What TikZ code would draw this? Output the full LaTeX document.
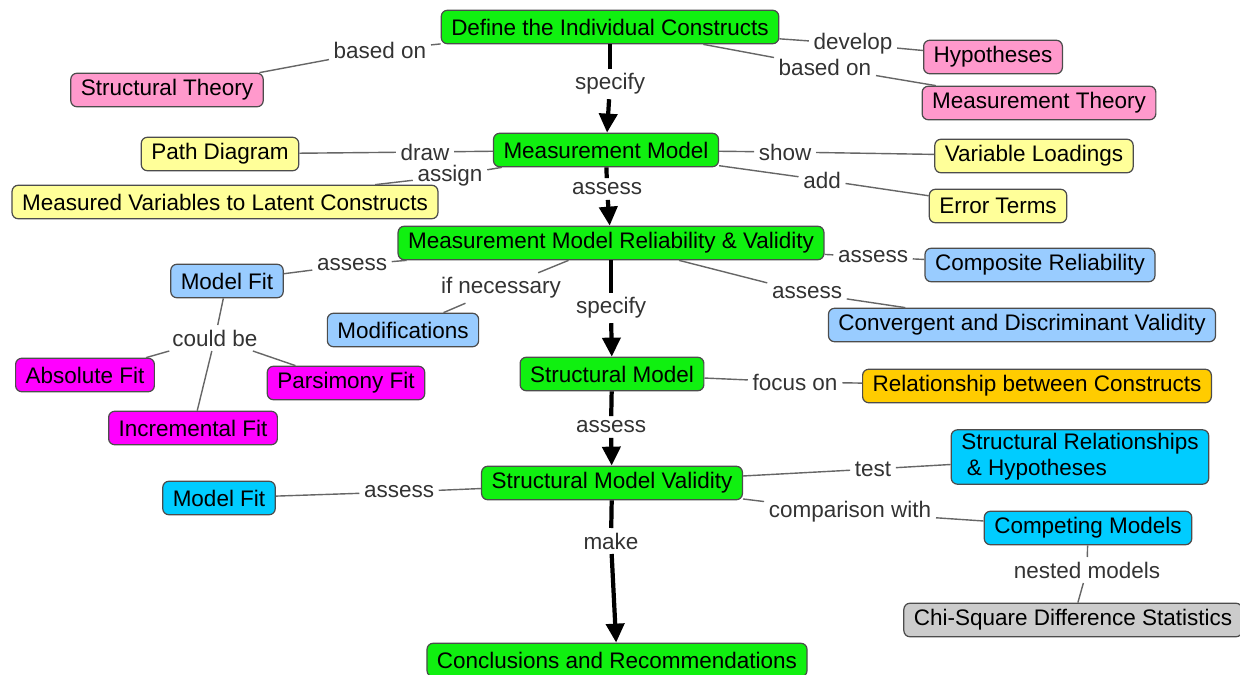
\documentclass[tikz,border=0pt]{standalone}
\usepackage{fontspec}
\setmainfont{Liberation Sans}
\usetikzlibrary{arrows.meta}

\definecolor{cGreen}{RGB}{16,240,16}
\definecolor{cPink}{RGB}{255,153,204}
\definecolor{cYellow}{RGB}{255,255,153}
\definecolor{cLightBlue}{RGB}{153,204,255}
\definecolor{cMagenta}{RGB}{255,0,255}
\definecolor{cOrange}{RGB}{255,204,0}
\definecolor{cCyan}{RGB}{0,204,255}
\definecolor{cGray}{RGB}{204,204,204}

\begin{document}
\begin{tikzpicture}[
  x=0.02cm, y=-0.02cm,
  concept/.style={draw=black!70, line width=0.7pt, rounded corners=3.5pt, minimum height=0.67cm, inner xsep=0.2cm, inner ysep=2pt, font=\fontsize{12.8}{15}\selectfont},
  phrase/.style={inner sep=2.5pt, text=black!80, font=\fontsize{12.8}{15}\selectfont},
  link/.style={draw=black!60, line width=0.8pt},
  flow/.style={line width=2.4pt},
  flowarrow/.style={line width=2.4pt, -{Triangle[length=0.38cm,width=0.36cm]}}
]
\useasboundingbox (0,0) rectangle (1240,675);
% Main chain
\node[concept, fill=cGreen] (def) at (610,27) {Define the Individual Constructs};
\node[concept, fill=cGreen] (mm) at (606,150) {Measurement Model};
\node[concept, fill=cGreen] (rv) at (611,243) {Measurement Model Reliability \& Validity};
\node[concept, fill=cGreen] (sm) at (612,374) {Structural Model};
\node[concept, fill=cGreen] (smv) at (612,483) {Structural Model Validity};
\node[concept, fill=cGreen] (conc) at (617,660) {Conclusions and Recommendations};
% Theories and hypotheses
\node[concept, fill=cPink] (st) at (167,90) {Structural Theory};
\node[concept, fill=cPink] (hyp) at (993,57) {Hypotheses};
\node[concept, fill=cPink] (mt) at (1039,103) {Measurement Theory};
% Measurement model parts
\node[concept, fill=cYellow] (pd) at (220,154) {Path Diagram};
\node[concept, fill=cYellow] (mv) at (225,202) {Measured Variables to Latent Constructs};
\node[concept, fill=cYellow] (vl) at (1034,156) {Variable Loadings};
\node[concept, fill=cYellow] (et) at (998,206) {Error Terms};
% Reliability and validity
\node[concept, fill=cLightBlue] (mfa) at (227,281) {Model Fit};
\node[concept, fill=cLightBlue] (mod) at (403,330) {Modifications};
\node[concept, fill=cLightBlue] (cr) at (1040,265) {Composite Reliability};
\node[concept, fill=cLightBlue] (cv) at (1022,325) {Convergent and Discriminant Validity};
\node[concept, fill=cMagenta] (abs) at (85,375) {Absolute Fit};
\node[concept, fill=cMagenta] (pars) at (346,383) {Parsimony Fit};
\node[concept, fill=cMagenta] (inc) at (193,428) {Incremental Fit};
% Structural model
\node[concept, fill=cOrange] (rel) at (1037,386) {Relationship between Constructs};
\node[concept, fill=cCyan, align=left] (srh) at (1080,457) {Structural Relationships\\\hspace{0.25em}\& Hypotheses};
\node[concept, fill=cCyan] (mfb) at (219,498) {Model Fit};
\node[concept, fill=cCyan] (cm) at (1088,528) {Competing Models};
\node[concept, fill=cGray] (chi) at (1073,620) {Chi-Square Difference Statistics};
% Linking phrases
\node[phrase] (lbBasedL) at (380,50) {based on};
\node[phrase] (lbSpecA) at (610,84) {specify};
\node[phrase] (lbDevelop) at (853,44) {develop};
\node[phrase] (lbBasedR) at (825,67) {based on};
\node[phrase] (lbDraw) at (425,152) {draw};
\node[phrase] (lbAssign) at (450,176) {assign};
\node[phrase] (lbShow) at (785,152) {show};
\node[phrase] (lbAdd) at (822,180) {add};
\node[phrase] (lbAssessA) at (607,189) {assess};
\node[phrase] (lbAssessFit) at (352,265) {assess};
\node[phrase] (lbIfNec) at (501,288) {if necessary};
\node[phrase] (lbSpecB) at (611,308) {specify};
\node[phrase] (lbAssessCR) at (873,257) {assess};
\node[phrase] (lbAssessCV) at (807,293) {assess};
\node[phrase] (lbCould) at (215,338) {could be};
\node[phrase] (lbFocus) at (795,382) {focus on};
\node[phrase] (lbAssessB) at (611,427) {assess};
\node[phrase] (lbAssessMF) at (399,492) {assess};
\node[phrase] (lbTest) at (873,469) {test};
\node[phrase] (lbComp) at (850,512) {comparison with};
\node[phrase] (lbMake) at (611,541) {make};
\node[phrase] (lbNested) at (1087,570) {nested models};
% Main flow
\draw[flow] (def) -- (lbSpecA);
\draw[flowarrow] (lbSpecA) -- (mm);
\draw[flow] (mm) -- (lbAssessA);
\draw[flowarrow] (lbAssessA) -- (rv);
\draw[flow] (rv) -- (lbSpecB);
\draw[flowarrow] (lbSpecB) -- (sm);
\draw[flow] (sm) -- (lbAssessB);
\draw[flowarrow] (lbAssessB) -- (smv);
\draw[flow] (smv) -- (lbMake);
\draw[flowarrow] (lbMake) -- (conc);
% Side links
\draw[link] (def) -- (lbBasedL) -- (st);
\draw[link] (def) -- (lbDevelop) -- (hyp);
\draw[link] (def) -- (lbBasedR) -- (mt);
\draw[link] (mm) -- (lbDraw) -- (pd);
\draw[link] (mm) -- (lbAssign) -- (mv);
\draw[link] (mm) -- (lbShow) -- (vl);
\draw[link] (mm) -- (lbAdd) -- (et);
\draw[link] (rv) -- (lbAssessFit) -- (mfa);
\draw[link] (rv) -- (lbIfNec) -- (mod);
\draw[link] (rv) -- (lbAssessCR) -- (cr);
\draw[link] (rv) -- (lbAssessCV) -- (cv);
\draw[link] (mfa) -- (lbCould);
\draw[link] (lbCould) -- (abs);
\draw[link] (lbCould) -- (inc);
\draw[link] (lbCould) -- (pars);
\draw[link] (sm) -- (lbFocus) -- (rel);
\draw[link] (smv) -- (lbAssessMF) -- (mfb);
\draw[link] (smv) -- (lbTest) -- (srh);
\draw[link] (smv) -- (lbComp) -- (cm);
\draw[link] (cm) -- (lbNested) -- (chi);
\end{tikzpicture}
\end{document}
